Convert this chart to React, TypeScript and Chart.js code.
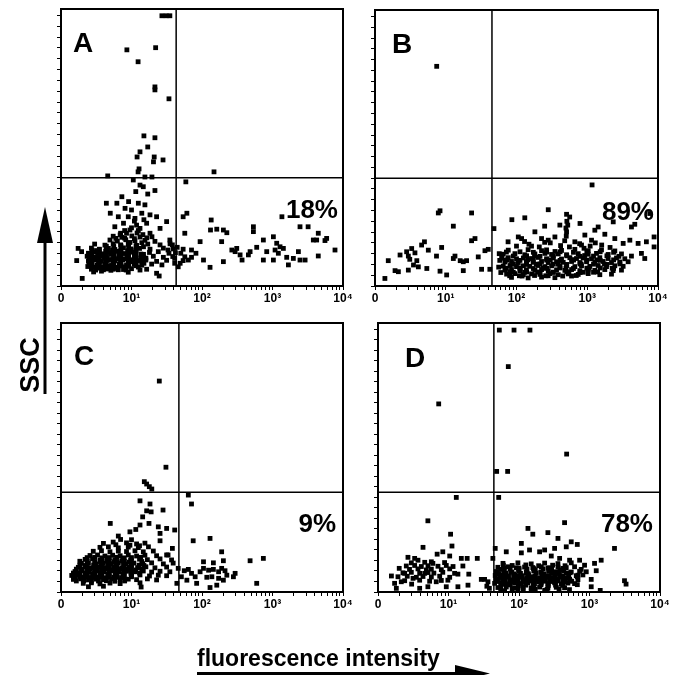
import React, { useEffect, useRef } from "react";
import { Chart, registerables } from "chart.js";

Chart.register(...registerables);

type Pt = [number, number];

// ---------- axis definitions ----------
const X_MAJOR = [1, 10, 100, 1000, 10000];
const X_LABELS = ["0", "10¹", "10²", "10³", "10⁴"];
const X_MINOR_MULT = [2, 3, 4, 5, 6, 7, 8, 9];
const Y_MAX = 1024;
const Y_TICK_VALUES = [0, 40, 80, 120, 160, 200, 240, 280, 320, 360, 400, 440, 480, 520, 560, 600, 640, 680, 720, 760, 800, 840, 880, 920, 960, 1000];

// ---------- panel annotations ----------
const PANEL_LETTERS = ["A", "B", "C", "D"];
const PANEL_PERCENTS = ["18%", "89%", "9%", "78%"];
const GATE_X = [43, 45, 47, 44];
const GATE_Y = [400, 400, 380, 380];

// ---------- events (fluorescence, SSC) ----------
const pointsA: Pt[] = [
  [27, 999], [31, 999], [35, 999], [8.6, 873], [22, 881], [12.4, 829], [21.5, 736], [21.5, 725], [34, 692],
  [15, 555], [21.5, 548], [17, 514], [13.2, 496], [12, 477], [21, 477], [20.5, 459], [28, 466], [12.8, 433],
  [12.4, 422], [4.6, 407], [15.5, 403], [19.5, 403], [148, 422], [59, 385],
  [10.6, 392], [13.2, 373], [14.7, 367], [11.5, 349], [17, 340], [21.5, 353], [7.3, 330], [9.1, 312], [4.4, 306],
  [6.2, 306], [12.5, 306], [15.5, 300], [8.1, 287], [10, 281], [5, 269], [14, 269], [18.3, 263], [22.7, 256],
  [6.5, 256], [9, 256], [11.2, 250], [31.5, 238], [7.7, 232], [16.4, 232], [13.2, 213], [25.4, 213], [5.8, 219],
  [9.5, 207], [11.8, 225], [8.5, 195], [18.3, 195], [6.9, 189],
  [5.5, 184], [7.3, 180], [10.1, 185], [13.2, 181],
  [4.95, 170], [6.3, 166], [8.3, 171], [11.2, 167], [15.5, 169], [21.5, 165],
  [3.0, 155], [4.2, 151], [5.5, 156], [7.0, 152], [9.0, 154], [11.8, 150], [17, 155], [25.4, 152], [35.2, 156],
  [2.7, 140], [3.5, 136], [4.7, 139], [5.8, 135], [7.7, 141], [9.8, 137], [13, 139], [18.3, 136], [28.3, 140], [39.2, 137],
  [2.45, 121], [3.1, 126], [3.9, 119], [4.95, 124], [6.3, 128], [8.1, 120], [10.4, 125], [13.6, 118], [18, 124], [24, 127], [34, 121],
  [2.35, 110], [2.95, 106], [3.65, 111], [4.5, 105], [5.6, 109], [7.0, 107], [9.0, 112], [11.5, 104], [14.7, 108], [20.4, 110], [28.3, 106], [38.5, 109],
  [2.45, 92], [3.0, 96], [3.75, 91], [4.7, 95], [5.8, 93], [7.5, 97], [9.5, 90], [12.2, 94], [16, 96], [22.7, 91], [31.5, 95],
  [2.6, 81], [3.25, 77], [4.2, 80], [5.2, 76], [6.7, 82], [8.5, 78], [10.9, 80], [14, 77], [19.3, 81], [27, 78],
  [2.7, 62], [3.5, 66], [4.5, 63], [6.0, 65], [7.7, 61], [10, 64], [16.4, 62],
  [2.9, 52], [3.75, 55], [9, 51],
  [3.2, 131], [4.3, 129], [5.4, 132], [6.9, 130], [8.8, 128], [11.5, 131],
  [2.6, 115], [3.3, 116], [4.1, 113], [5.1, 117], [6.6, 114], [8.6, 116], [11, 112],
  [2.5, 101], [3.3, 99], [4.1, 102], [5.2, 98], [6.4, 101], [8.2, 100], [10.5, 97], [13.5, 102],
  [2.5, 86], [3.4, 88], [4.3, 85], [5.5, 87], [7.0, 84], [9.0, 88], [11.5, 86], [15, 84],
  [2.4, 72], [3.0, 70], [3.9, 71], [4.9, 73], [6.3, 69], [8.1, 71], [12.5, 70],
  [2.75, 133], [3.5, 134], [4.4, 132], [5.6, 134], [7.1, 133], [9.1, 132], [11.6, 134],
  [4.4, 147], [5.6, 146], [7.1, 148], [9.1, 146], [11.6, 147], [14.8, 145],
  [2.75, 118], [3.5, 119], [4.4, 117], [5.6, 118], [7.1, 119], [9.1, 117], [11.6, 119], [14.8, 117],
  [2.75, 103], [3.5, 104], [4.4, 102], [5.6, 104], [7.1, 103], [9.1, 102], [11.6, 104], [16, 103],
  [2.75, 89], [3.5, 90], [4.4, 88], [5.6, 90], [7.1, 89], [9.1, 88], [11.6, 90], [14, 91],
  [2.75, 74], [3.5, 75], [4.4, 73], [5.6, 75], [7.1, 74], [9.1, 73], [11.6, 75],
  [3.1, 59], [4.0, 60], [5.1, 58], [6.5, 60], [8.4, 59],
  [6.0, 176], [8.0, 177], [11, 175], [7, 195], [12, 196], [9.5, 161], [14, 160],
  [10, 215], [12.5, 205], [14.5, 190], [8, 205], [16.5, 178], [19.5, 182], [11, 240], [15, 245],
  [1.75, 139], [1.96, 127], [1.67, 94], [2.0, 28], [5.5, 62], [13.2, 59], [22.7, 47], [24.7, 37], [35, 170],
  [38, 152], [33, 133], [42, 123],
  [1360, 256], [61, 269], [54, 256], [135, 244], [57, 195], [132, 207], [162, 210], [201, 207], [225, 197],
  [190, 164], [94, 164], [54, 136], [71, 133], [82, 121], [105, 96], [57, 108], [64, 96], [49, 84], [41, 84],
  [46, 71], [130, 69], [201, 90], [265, 133], [295, 127], [311, 139], [347, 115], [370, 96], [455, 115], [481, 127],
  [536, 201], [536, 219], [597, 143], [742, 170], [828, 127], [742, 96], [1029, 182], [1147, 158], [1088, 133],
  [1279, 145], [1210, 121], [1029, 96], [1426, 139], [1590, 106], [1680, 78], [1976, 102], [2330, 127], [2456, 96],
  [2900, 96], [2456, 219], [3200, 219], [4460, 195], [3794, 170], [4230, 170], [5862, 176], [5550, 168], [4460, 111],
  [7700, 133], [44.5, 143], [50, 121], [41, 102], [54, 94], [71, 106],
];

const pointsB: Pt[] = [
  [7.45, 815], [1170, 375],
  [7.85, 271], [8.3, 279], [23.2, 271], [12.8, 222], [1.38, 28], [1.54, 94], [1.92, 57], [2.14, 53], [2.26, 115],
  [2.8, 127], [2.96, 111], [3.1, 99], [3.3, 139], [3.67, 123], [3.9, 94], [3.5, 78], [2.96, 59], [4.1, 71],
  [4.56, 152], [5.0, 164], [5.67, 133], [5.4, 65], [7.4, 111], [8.75, 143], [8.3, 55], [10.3, 41], [13.5, 111],
  [12.8, 102], [16, 94], [17.7, 90], [19.7, 94], [17.7, 57], [23.2, 168], [25.9, 176], [28.8, 108], [32.1, 62],
  [35.8, 131], [39.9, 136], [42, 62], [48, 213],
  [86, 246], [131, 253], [281, 283], [510, 266], [565, 256], [530, 226], [410, 226], [250, 222], [182, 201],
  [790, 232], [106, 182], [118, 176], [76, 164], [163, 148], [1280, 207], [1427, 219], [1772, 192], [2330, 238],
  [2453, 176], [4215, 219], [4697, 229], [7650, 269], [4000, 170], [3220, 158], [5234, 158], [6850, 164],
  [8800, 182], [8800, 145], [5833, 121], [6500, 102], [3783, 90], [4215, 111], [510, 201], [925, 189], [1149, 170],
  [668, 164], [830, 152], [349, 182], [281, 170], [226, 176], [505, 185], [515, 240], [500, 215],
  [100, 148], [150, 155], [210, 145], [300, 160], [420, 150], [560, 145], [780, 157], [1100, 148], [1600, 152],
  [2100, 143], [130, 165], [250, 162], [480, 168], [900, 140], [1300, 160],
  [76.5, 133], [146, 135], [226, 131], [266, 134], [433, 132], [668, 136], [1031, 131], [1590, 134], [2453, 130],
  [65, 118], [95, 120], [131, 116], [182, 119], [252, 121], [313, 117], [389, 119], [510, 116], [745, 120],
  [1031, 118], [1351, 121], [1975, 117], [3046, 119],
  [61.6, 103], [76.5, 105], [100, 101], [125, 104], [163, 102], [203, 106], [266, 101], [331, 104], [433, 100],
  [568, 105], [705, 102], [876, 104], [1149, 101], [1506, 105], [1975, 102], [2589, 104], [3394, 101],
  [68.6, 89], [85, 91], [106, 87], [138, 90], [172, 88], [226, 91], [281, 87], [368, 90], [457, 88], [600, 91],
  [787, 87], [977, 90], [1280, 88], [1679, 91], [2201, 87], [2886, 89],
  [65, 74], [81, 76], [100, 72], [125, 75], [154, 73], [203, 76], [252, 72], [313, 75], [410, 73], [510, 76],
  [668, 72], [830, 75], [1088, 73], [1427, 76], [1871, 72], [2453, 75], [3216, 73],
  [68.6, 59], [85, 61], [112, 57], [138, 60], [182, 58], [226, 61], [281, 57], [368, 60], [483, 58], [600, 61],
  [787, 57], [1031, 60], [1280, 58], [1772, 61], [2323, 57], [3046, 59],
  [72.5, 44], [95, 46], [125, 42], [163, 45], [214, 43], [297, 46], [389, 42], [538, 45], [745, 43], [1031, 46],
  [1506, 42], [2201, 44],
  [85, 32], [146, 30], [226, 33], [349, 31],
  [57, 120], [58, 95], [56, 70], [60, 50],
  [73, 97], [90, 82], [112, 66], [145, 97], [190, 81], [240, 66], [300, 97], [390, 81], [500, 66], [640, 97],
  [820, 81], [1060, 66], [1360, 97], [1750, 81], [2250, 66], [2800, 110], [350, 128], [180, 112], [920, 113],
  [80, 52], [130, 51], [200, 52], [330, 51], [550, 52], [880, 51], [1400, 52], [110, 38], [260, 38], [600, 37],
  [72, 126], [112, 127], [173, 125], [267, 126], [413, 127], [638, 125], [986, 126], [1524, 127], [2356, 125],
  [90, 111], [139, 112], [215, 110], [332, 111], [513, 112], [793, 110], [1226, 111], [1895, 112],
  [72, 96], [112, 95], [173, 97], [267, 96], [413, 95], [638, 97], [986, 96], [1524, 95], [2356, 97],
  [90, 81], [139, 80], [215, 82], [332, 81], [513, 80], [793, 82], [1226, 81], [1895, 80], [2900, 82],
  [72, 66], [112, 67], [173, 65], [267, 66], [413, 67], [638, 65], [986, 66], [1524, 67], [2356, 65],
  [90, 51], [139, 52], [215, 50], [332, 51], [513, 52], [793, 50], [1226, 51],
  [80, 38], [120, 37], [180, 39], [280, 38], [450, 37], [700, 39],
];

const pointsC: Pt[] = [
  [24.8, 803], [30.8, 475], [15.2, 420], [16.4, 411], [17.9, 401], [19.4, 392],
  [64, 369], [71, 335], [13.2, 347], [18.3, 335], [16.4, 309], [19, 305], [28, 312], [5, 261], [6.5, 213],
  [9.5, 229], [11.5, 238], [13.2, 255], [14.4, 286], [17.7, 261], [24, 248], [25.4, 223], [31.5, 242], [41, 236],
  [25.4, 195], [38, 166], [33, 141], [75, 195], [130, 204], [190, 153], [201, 119], [145, 111], [105, 115],
  [481, 119], [742, 128], [597, 33],
  [46, 90], [56, 81], [64, 86], [71, 71], [80, 58], [94, 77], [105, 90], [124, 83], [145, 86], [172, 77],
  [190, 90], [212, 81], [225, 64], [279, 58], [295, 71], [84, 33], [130, 17], [162, 26], [201, 45], [117, 56],
  [138, 58], [172, 52], [51, 58], [61, 45], [44, 33],
  [4.0, 185], [8.5, 187], [11.8, 183], [15.5, 186],
  [3.57, 170], [4.7, 172], [6.5, 168], [9.0, 171], [12.5, 169], [17.4, 172],
  [2.87, 155], [3.75, 157], [4.95, 153], [6.5, 156], [8.5, 154], [11.2, 157], [14.7, 153], [20.4, 156],
  [2.58, 139], [3.3, 141], [4.2, 137], [5.4, 140], [6.9, 138], [9.0, 141], [11.8, 137], [15.5, 140], [22.7, 138], [31.5, 141],
  [2.2, 124], [2.8, 126], [3.57, 122], [4.5, 125], [5.8, 123], [7.5, 126], [9.7, 122], [13, 125], [16.8, 123], [25.4, 126], [37, 122],
  [1.95, 109], [2.45, 111], [3.15, 107], [4.0, 110], [5.1, 108], [6.5, 111], [8.3, 107], [10.8, 110], [14.4, 108], [19.3, 111], [28.3, 107], [39, 110],
  [1.76, 94], [2.2, 96], [2.7, 92], [3.5, 95], [4.4, 93], [5.6, 96], [7.3, 92], [9.3, 95], [12.2, 93], [16, 96], [21.5, 92], [31.5, 95],
  [1.58, 78], [1.95, 80], [2.5, 76], [3.2, 79], [4.05, 77], [5.2, 80], [6.7, 76], [8.5, 79], [11.2, 77], [14.7, 80], [19.3, 76], [25.4, 79], [35, 77],
  [1.42, 63], [1.76, 65], [2.25, 61], [2.87, 64], [3.65, 62], [4.7, 65], [6.0, 61], [7.85, 64], [10, 62], [13.2, 65], [18, 61], [24, 64], [31.5, 62],
  [1.5, 48], [1.9, 50], [2.45, 46], [3.15, 49], [4.0, 47], [5.2, 50], [6.9, 46], [9.0, 49], [11.8, 47], [16.8, 50], [22.7, 46],
  [2.07, 33], [2.7, 35], [3.57, 31], [4.95, 34], [6.9, 32], [13.2, 35],
  [2.45, 20], [4.0, 22], [13.7, 19],
  [3.6, 116], [4.5, 117], [5.7, 115], [7.3, 118], [9.2, 114],
  [2.2, 101], [2.9, 103], [3.7, 100], [4.7, 102], [6.0, 99], [7.7, 103], [9.9, 100], [12.8, 102],
  [2.0, 86], [2.6, 88], [3.3, 85], [4.2, 87], [5.4, 84], [6.9, 88], [8.9, 86], [11.5, 84],
  [1.7, 71], [2.2, 72], [2.8, 70], [3.6, 73], [4.6, 69], [5.9, 72], [7.6, 70], [9.8, 71],
  [1.6, 56], [2.1, 57], [2.7, 55], [3.4, 58], [4.4, 54], [5.6, 57], [7.2, 55],
  [2.35, 131], [3.0, 132], [3.8, 130], [4.85, 131], [6.2, 132], [7.9, 130], [10, 131], [13.5, 132],
  [1.85, 117], [2.35, 118], [3.0, 116], [3.8, 117], [4.85, 118], [6.2, 116], [7.9, 117], [10, 118], [14, 116],
  [1.85, 102], [2.35, 103], [3.0, 101], [3.8, 102], [4.85, 103], [6.2, 101], [7.9, 102], [10, 103], [15, 101],
  [1.65, 87], [2.35, 88], [3.0, 86], [3.8, 87], [4.85, 88], [6.2, 86], [7.9, 87], [10, 88], [14, 86],
  [1.5, 72], [1.85, 73], [2.35, 71], [3.0, 72], [3.8, 73], [4.85, 71], [6.2, 72], [7.9, 73], [10, 71], [13, 72],
  [1.85, 57], [2.35, 58], [3.0, 56], [3.8, 57], [4.85, 58], [6.2, 56], [7.9, 57], [10, 58],
  [1.65, 42], [2.1, 43], [2.7, 41], [3.4, 42], [4.4, 43], [5.8, 41], [8, 42],
  [5.5, 190], [7, 200], [10, 199], [6, 180], [9.5, 178], [13, 176],
];

const pointsD: Pt[] = [
  [52.6, 997], [85, 997], [143, 997], [70.5, 858], [7.26, 716], [474, 525], [48.2, 459], [69, 459],
  [12.9, 360], [51.5, 360], [5.1, 271], [10.7, 220], [4.35, 170], [11.2, 175], [8.3, 153], [6.9, 144], [10.4, 137],
  [2.66, 132], [3.69, 121], [15.2, 128], [18.4, 128], [25.6, 128], [42.6, 128], [16, 99], [13.6, 68], [19.4, 68],
  [18.9, 26], [13.6, 20], [29.2, 48], [35, 22], [1.55, 61], [2.0, 90], [2.39, 71], [1.72, 33], [2.14, 39],
  [1.82, 14], [3.14, 52], [3.0, 30], [3.9, 14], [5.1, 20], [6.7, 39], [9.3, 20], [9.8, 45], [4.6, 71],
  [2.97, 111], [4.6, 113], [6.0, 109], [8.8, 112],
  [2.52, 99], [3.31, 101], [4.12, 97], [5.12, 100], [7.09, 98], [9.3, 101], [11.6, 97],
  [2.8, 86], [3.69, 88], [4.85, 84], [5.71, 87], [7.91, 85], [10.4, 88],
  [2.26, 73], [2.97, 75], [3.9, 71], [5.12, 74], [6.2, 72], [8.3, 75], [12.2, 71],
  [1.92, 58], [2.6, 60], [3.5, 56], [4.35, 59], [5.71, 57], [7.5, 60], [10.4, 56],
  [2.39, 43], [3.9, 45], [5.4, 41], [7.91, 44], [3.31, 128], [5.71, 115],
  [134, 242], [157, 220], [257, 226], [443, 264], [357, 204], [551, 191], [671, 181], [2263, 166], [3136, 43],
  [3300, 30], [1465, 121], [1246, 81], [1179, 109], [1058, 48], [1420, 6], [108, 185], [141, 160], [196, 153],
  [231, 160], [320, 166], [468, 172], [66, 153], [46, 166], [108, 149], [287, 137], [377, 128], [522, 121],
  [724, 121], [851, 102], [763, 86], [685, 64], [1058, 20], [36.3, 39], [32.5, 48], [38, 14],
  [59.3, 109], [96.5, 111], [149, 107], [231, 110], [357, 108], [551, 111],
  [50.2, 94], [69.6, 96], [91.3, 92], [120, 95], [157, 93], [207, 96], [271, 92], [357, 95], [468, 93], [614, 96],
  [47.8, 78], [61.3, 80], [77.6, 76], [98.6, 79], [127, 77], [162, 80], [207, 76], [263, 79], [338, 77], [434, 80],
  [551, 76], [724, 79], [900, 77],
  [46, 63], [57.3, 65], [71.1, 61], [88.4, 64], [110, 62], [137, 65], [170, 61], [211, 64], [263, 62], [327, 65],
  [407, 61], [505, 64], [649, 62], [806, 65],
  [47.8, 48], [59.3, 50], [73.5, 46], [91.3, 49], [114, 47], [141, 50], [175, 46], [218, 49], [271, 47], [338, 50],
  [420, 46], [522, 49], [685, 47],
  [45.1, 33], [56, 35], [69.6, 31], [86.5, 34], [108, 32], [134, 35], [166, 31], [207, 34], [257, 32], [320, 35],
  [398, 31], [494, 34], [614, 32],
  [50.2, 17], [66, 19], [86.5, 15], [114, 18], [149, 16], [196, 19], [257, 15], [338, 18], [443, 16],
  [62.5, 5], [96.5, 7], [149, 4], [231, 6],
  [55, 86], [75, 88], [100, 85], [130, 87], [170, 84], [220, 88], [290, 86], [380, 84],
  [52, 70], [66, 72], [84, 69], [105, 71], [135, 70], [175, 72], [225, 69], [290, 71], [375, 70], [470, 72],
  [53, 55], [67, 57], [84, 54], [104, 56], [128, 55], [158, 57], [195, 54], [240, 56], [300, 55], [380, 57], [470, 54],
  [51, 40], [63, 42], [78, 39], [97, 41], [122, 40], [152, 42], [190, 39], [235, 41], [290, 40], [360, 42], [450, 39], [560, 41],
  [55, 25], [75, 27], [98, 24], [125, 26], [160, 25], [205, 27], [260, 24], [330, 26], [420, 25],
  [60, 102], [80, 101], [125, 103], [190, 100], [300, 102], [450, 100],
  [62, 90], [100, 91], [161, 89], [259, 91], [417, 90],
  [49, 74], [79, 75], [127, 73], [204, 75], [329, 74], [530, 73],
  [62, 59], [100, 60], [161, 58], [259, 60], [417, 59], [672, 58],
  [49, 44], [79, 45], [127, 43], [204, 45], [329, 44], [530, 43],
  [62, 29], [100, 30], [161, 28], [259, 30], [417, 29], [672, 28],
  [55, 10], [80, 12], [115, 9], [170, 11], [250, 10], [370, 12], [520, 9],
];

const PANEL_POINTS = [pointsA, pointsB, pointsC, pointsD];

// ---------- layout (page pixels) ----------
const FONT = '"Liberation Sans", Arial, Helvetica, sans-serif';

interface Layout {
  left: number; top: number; width: number; height: number;
  yAxisW: number; padTop: number; padRight: number; xAxisH: number;
  letterX: number; letterY: number; pctX: number; pctY: number;
}

const LAYOUTS: Layout[] = [
  { left: 0, top: 0, width: 365, height: 312, yAxisW: 61, padTop: 9, padRight: 22, xAxisH: 26, letterX: 73, letterY: 52, pctX: 338, pctY: 218 },
  { left: 345, top: 0, width: 340, height: 312, yAxisW: 30, padTop: 10, padRight: 27, xAxisH: 26, letterX: 392, letterY: 53, pctX: 654, pctY: 220 },
  { left: 0, top: 312, width: 365, height: 320, yAxisW: 61, padTop: 11, padRight: 22, xAxisH: 40, letterX: 74, letterY: 365, pctX: 336, pctY: 532 },
  { left: 345, top: 312, width: 340, height: 320, yAxisW: 33, padTop: 11, padRight: 25, xAxisH: 40, letterX: 405, letterY: 367, pctX: 653, pctY: 532 },
];

const xTickValues: number[] = [];
X_MAJOR.forEach((d, i) => {
  xTickValues.push(d);
  if (i < X_MAJOR.length - 1) X_MINOR_MULT.forEach((m) => xTickValues.push(m * d));
});

const framePlugin = {
  id: "frame",
  afterDatasetsDraw(chart: any) {
    const { ctx, chartArea } = chart;
    const { left, top, right, bottom } = chartArea;
    ctx.save();
    ctx.strokeStyle = "#000";
    ctx.lineWidth = 2;
    ctx.strokeRect(left, top, right - left, bottom - top);
    ctx.restore();
  },
};

function Panel({ idx }: { idx: number }) {
  const ref = useRef<HTMLCanvasElement | null>(null);
  const L = LAYOUTS[idx];
  useEffect(() => {
    if (!ref.current) return;
    const pts = PANEL_POINTS[idx];
    const gx = GATE_X[idx];
    const gy = GATE_Y[idx];
    const chart = new Chart(ref.current, {
      type: "scatter",
      data: {
        datasets: [
          {
            data: pts.map(([x, y]) => ({ x, y })),
            pointStyle: "rect",
            pointRadius: 3.4,
            pointHoverRadius: 3.4,
            backgroundColor: "#000",
            borderColor: "#000",
            borderWidth: 0,
            showLine: false,
          },
          {
            data: [{ x: 1, y: gy }, { x: 10000, y: gy }],
            showLine: true,
            borderColor: "#000",
            borderWidth: 1.5,
            pointRadius: 0,
            fill: false,
          },
          {
            data: [{ x: gx, y: 0 }, { x: gx, y: Y_MAX }],
            showLine: true,
            borderColor: "#000",
            borderWidth: 1.5,
            pointRadius: 0,
            fill: false,
          },
        ],
      } as any,
      options: {
        animation: false,
        responsive: false,
        devicePixelRatio: 1,
        events: [],
        layout: { padding: { left: 0, top: L.padTop, right: L.padRight, bottom: 0 } },
        plugins: { legend: { display: false }, tooltip: { enabled: false } },
        scales: {
          x: {
            type: "logarithmic",
            position: "bottom",
            min: 1,
            max: 10000,
            afterBuildTicks: (s: any) => {
              s.ticks = xTickValues.map((v) => ({ value: v }));
            },
            afterFit: (s: any) => {
              s.height = L.xAxisH;
            },
            ticks: {
              autoSkip: false,
              maxRotation: 0,
              minRotation: 0,
              padding: 1,
              color: "#000",
              font: { family: FONT, size: 12, weight: "bold" },
              callback: (v: any) => {
                const i = X_MAJOR.indexOf(Number(v));
                return i >= 0 ? X_LABELS[i] : "";
              },
            },
            grid: { drawOnChartArea: false, drawTicks: true, tickLength: 4, color: "#000", lineWidth: 1 },
            border: { display: false },
          },
          y: {
            type: "linear",
            position: "left",
            min: 0,
            max: Y_MAX,
            afterBuildTicks: (s: any) => {
              s.ticks = Y_TICK_VALUES.map((v) => ({ value: v }));
            },
            afterFit: (s: any) => {
              s.width = L.yAxisW;
            },
            ticks: { callback: () => "", font: { size: 1 } },
            grid: { drawOnChartArea: false, drawTicks: true, tickLength: 4, color: "#000", lineWidth: 1 },
            border: { display: false },
          },
        },
      } as any,
      plugins: [framePlugin],
    });
    return () => chart.destroy();
  }, [idx]);
  return (
    <canvas
      ref={ref}
      width={L.width}
      height={L.height}
      style={{ position: "absolute", left: L.left, top: L.top, width: L.width, height: L.height }}
    />
  );
}

export default function App() {
  return (
    <div style={{ position: "absolute", left: 0, top: 0, width: 691, height: 675, background: "#fff", overflow: "hidden" }}>
      {LAYOUTS.map((_, i) => (
        <Panel key={i} idx={i} />
      ))}
      <svg
        width={691}
        height={675}
        style={{ position: "absolute", left: 0, top: 0, pointerEvents: "none" }}
        fontFamily={FONT}
        fontWeight="bold"
      >
        {LAYOUTS.map((L, i) => (
          <g key={i}>
            <text x={L.letterX} y={L.letterY} fontSize={28} fill="#000">
              {PANEL_LETTERS[i]}
            </text>
            <text x={L.pctX} y={L.pctY} fontSize={26} fill="#000" textAnchor="end">
              {PANEL_PERCENTS[i]}
            </text>
          </g>
        ))}
        {/* SSC label with upward arrow */}
        <text x={39} y={365} fontSize={27} fill="#000" textAnchor="middle" transform="rotate(-90 39 365)">
          SSC
        </text>
        <line x1={45} y1={394} x2={45} y2={238} stroke="#000" strokeWidth={3} />
        <polygon points="45,207 37,243 53,243" fill="#000" />
        {/* fluorescence label with right arrow */}
        <text x={197} y={666} fontSize={23} fill="#000">
          fluorescence intensity
        </text>
        <line x1={197} y1={673.5} x2={460} y2={673.5} stroke="#000" strokeWidth={3} />
        <polygon points="490,673.5 455,665 455,682" fill="#000" />
      </svg>
    </div>
  );
}
